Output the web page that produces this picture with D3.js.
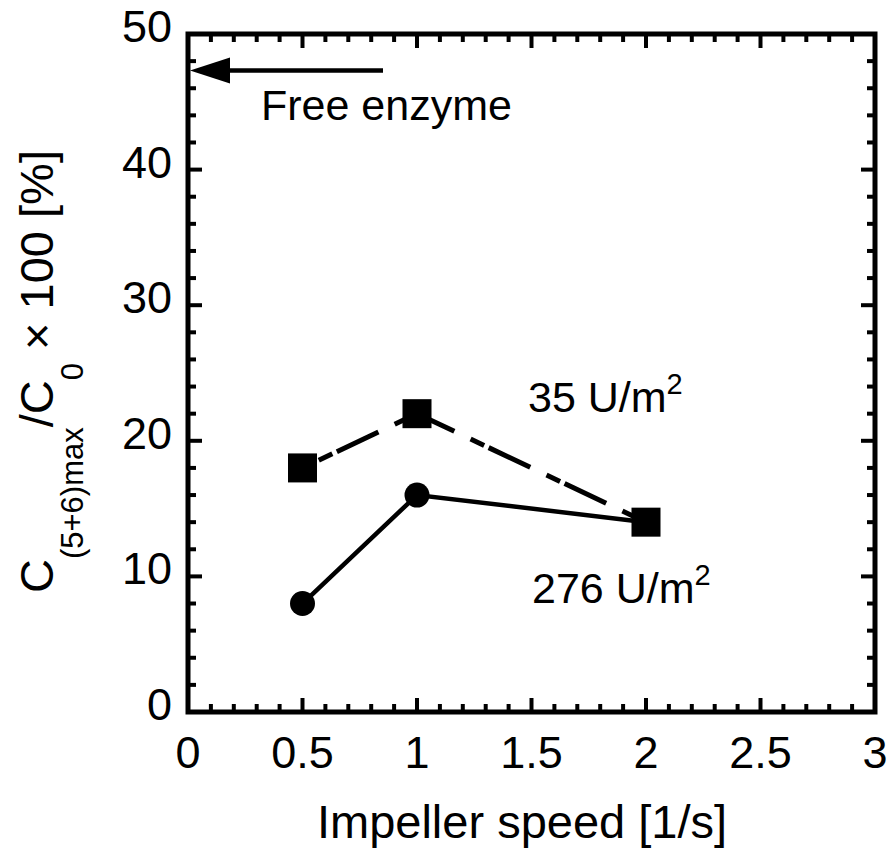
<!DOCTYPE html>
<html><head><meta charset="utf-8">
<script src="https://cdn.jsdelivr.net/npm/d3@7"></script>
<style>body{margin:0;background:#fff}text{font-family:"Liberation Sans",Arial,sans-serif}</style>
</head><body><svg id="c" width="894" height="852"></svg>
<script>
const speeds = [0.5, 1, 2];
const low35 = [18, 22, 14];
const high276 = [8, 16, 14];
const xTicks = [0, 0.5, 1, 1.5, 2, 2.5, 3];
const yTicks = [0, 10, 20, 30, 40, 50];
const freeEnzyme = 47.3;

const svg = d3.select("#c");
const L = 188, R = 875, T = 34, B = 712;
const x = d3.scaleLinear().domain([0, 3]).range([L, R]);
const y = d3.scaleLinear().domain([0, 50]).range([B, T]);
const fs = 45;

// ticks
const g = svg.append("g").attr("stroke", "#000").attr("stroke-width", 4);
d3.range(0, 3.0001, 0.1).forEach((v, i) => {
  const major = i % 5 === 0, len = major ? 14 : 8;
  g.append("line").attr("x1", x(v)).attr("x2", x(v)).attr("y1", B + 2).attr("y2", B - len);
  g.append("line").attr("x1", x(v)).attr("x2", x(v)).attr("y1", T - 2).attr("y2", T + len);
});
d3.range(0, 50.0001, 2).forEach((v, i) => {
  const major = i % 5 === 0, len = major ? 14 : 8;
  g.append("line").attr("y1", y(v)).attr("y2", y(v)).attr("x1", L - 2).attr("x2", L + len);
  g.append("line").attr("y1", y(v)).attr("y2", y(v)).attr("x1", R + 2).attr("x2", R - len);
});
svg.append("rect").attr("x", L).attr("y", T).attr("width", R - L).attr("height", B - T)
  .attr("fill", "none").attr("stroke", "#000").attr("stroke-width", 5);

// tick labels
xTicks.forEach(v => svg.append("text").attr("x", x(v)).attr("y", 768).attr("text-anchor", "middle")
  .attr("font-size", fs).text(v));
yTicks.forEach(v => svg.append("text").attr("x", 172).attr("y", y(v) + 8).attr("text-anchor", "end")
  .attr("font-size", fs).text(v));

// axis titles
svg.append("text").attr("x", 522).attr("y", 838).attr("text-anchor", "middle").attr("font-size", 47)
  .text("Impeller speed [1/s]");
const yt = svg.append("text").attr("transform", "translate(53,593) rotate(-90)")
  .attr("text-anchor", "start").attr("font-size", 47);
yt.append("tspan").text("C");
yt.append("tspan").attr("font-size", 31).attr("dy", 30).text("(5+6)max");
yt.append("tspan").attr("dy", -30).text("/C");
yt.append("tspan").attr("font-size", 31).attr("dy", 30).text("0");
yt.append("tspan").attr("dy", -30).text(" \u00d7 100 [%]");

// lines
const line = d3.line().x((d, i) => x(speeds[i])).y(d => y(d));
svg.append("path").datum(low35).attr("d", line).attr("fill", "none").attr("stroke", "#000")
  .attr("stroke-width", 5).attr("stroke-dasharray", "46,18,15,5").attr("stroke-dashoffset", 46);
svg.append("path").datum(high276).attr("d", line).attr("fill", "none").attr("stroke", "#000")
  .attr("stroke-width", 4.5);

// markers
const s = 29;
svg.selectAll("rect.m").data(low35).enter().append("rect").attr("class", "m")
  .attr("x", (d, i) => x(speeds[i]) - s / 2).attr("y", d => y(d) - s / 2)
  .attr("width", s).attr("height", s).attr("fill", "#000");
svg.selectAll("circle.m").data(high276).enter().append("circle").attr("class", "m")
  .attr("cx", (d, i) => x(speeds[i])).attr("cy", d => y(d)).attr("r", 12.5).attr("fill", "#000");

// labels
const l1 = svg.append("text").attr("x", 528).attr("y", 412).attr("font-size", 43);
l1.append("tspan").text("35 U/m");
l1.append("tspan").attr("font-size", 29).attr("dy", -18).text("2");
const l2 = svg.append("text").attr("x", 532).attr("y", 603).attr("font-size", 43);
l2.append("tspan").text("276 U/m");
l2.append("tspan").attr("font-size", 29).attr("dy", -18).text("2");

// arrow
svg.append("line").attr("x1", 383).attr("x2", x(0) + 30).attr("y1", y(freeEnzyme)).attr("y2", y(freeEnzyme))
  .attr("stroke", "#000").attr("stroke-width", 4.5);
svg.append("path").attr("d", `M${x(0) + 2},${y(freeEnzyme)} L${x(0) + 42},${y(freeEnzyme) - 13} L${x(0) + 42},${y(freeEnzyme) + 13}Z`)
  .attr("fill", "#000");
svg.append("text").attr("x", 261).attr("y", 120).attr("font-size", 43).text("Free enzyme");
</script></body></html>
